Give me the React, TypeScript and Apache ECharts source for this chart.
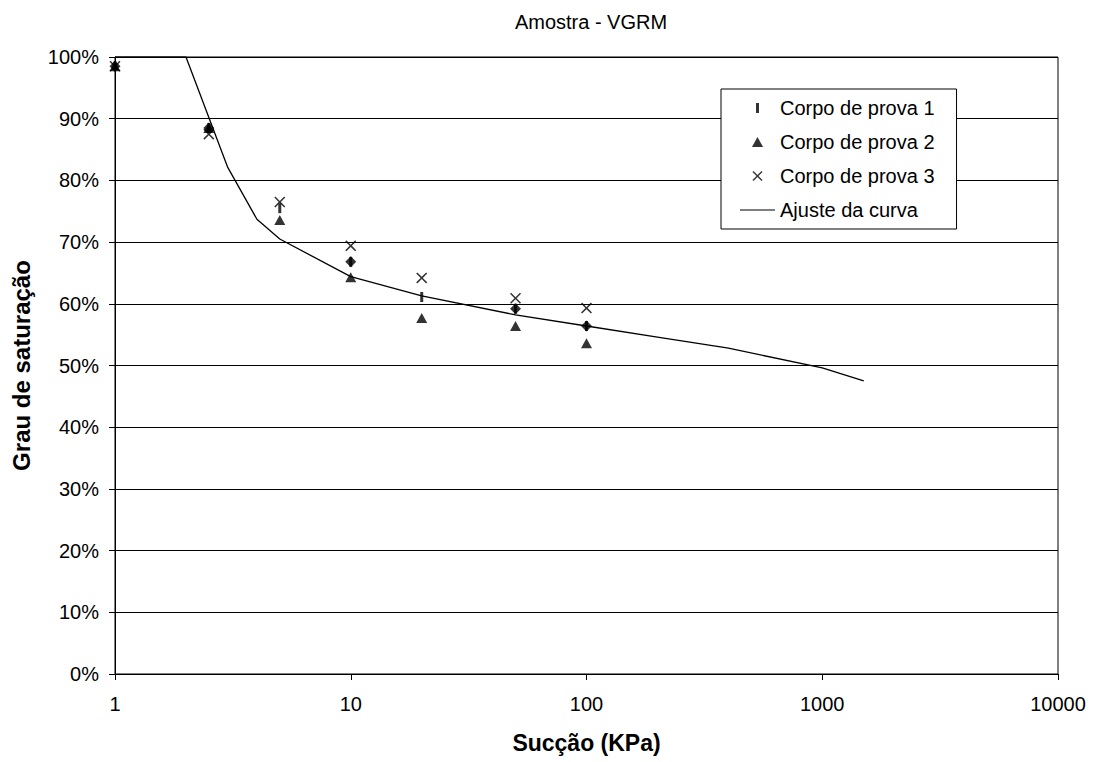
import React, { useEffect, useRef } from "react";
import * as echarts from "echarts";

const FONT = "'Liberation Sans', Arial, Helvetica, sans-serif";

const suctions = [1, 2.5, 5, 10, 20, 50, 100];
const cp1 = [0.985, 0.885, 0.755, 0.668, 0.611, 0.592, 0.564];
const cp2 = [0.985, 0.885, 0.736, 0.643, 0.577, 0.564, 0.536];
const cp3 = [0.985, 0.875, 0.765, 0.694, 0.642, 0.609, 0.593];
const meanX = [1, 2.5, 10, 50, 100];
const meanY = [0.985, 0.885, 0.668, 0.592, 0.564];
const fitX = [1, 2, 3, 4, 5, 10, 20, 50, 100, 200, 400, 1000, 1500];
const fitY = [1.0, 1.0, 0.822, 0.737, 0.705, 0.644, 0.613, 0.582, 0.564, 0.546, 0.528, 0.496, 0.475];
const xTicks = ["1", "10", "100", "1000", "10000"];

const DASH = "path://M0,0 L3,0 L3,10 L0,10 Z";
const TRI = "path://M5,0 L10,9 L0,9 Z";
const CROSS =
  "path://M0,1 L1,0 L5,4 L9,0 L10,1 L6,5 L10,9 L9,10 L5,6 L1,10 L0,9 L4,5 Z";
const LINE_ICON = "path://M0,0 L35,0 L35,1.2 L0,1.2 Z";

const zip = (xs: number[], ys: number[]) => xs.map((x, i) => [x, ys[i]]);

export default function App() {
  const ref = useRef<HTMLDivElement>(null);
  useEffect(() => {
    if (!ref.current) return;
    const chart = echarts.init(ref.current, null, { renderer: "svg" });
    chart.setOption({
      animation: false,
      backgroundColor: "#fff",
      textStyle: { fontFamily: FONT, color: "#000" },
      title: {
        text: "Amostra - VGRM",
        left: 586,
        textAlign: "center",
        top: 7,
        textStyle: { fontFamily: FONT, fontSize: 20, fontWeight: "normal", color: "#000" },
      },
      grid: {
        left: 115,
        right: 36,
        top: 57,
        bottom: 88,
        show: true,
        borderColor: "#000",
        borderWidth: 1,
        backgroundColor: "transparent",
      },
      legend: {
        orient: "vertical",
        left: 721,
        top: 89,
        padding: [9, 22, 9, 19],
        borderColor: "#000",
        borderWidth: 1,
        backgroundColor: "#fff",
        itemWidth: 35,
        itemHeight: 10,
        itemGap: 14,
        align: "left",
        symbolKeepAspect: true,
        textStyle: { fontFamily: FONT, fontSize: 20, color: "#000" },
        data: [
          { name: "Corpo de prova 1", icon: DASH },
          { name: "Corpo de prova 2", icon: TRI },
          { name: "Corpo de prova 3", icon: CROSS },
          { name: "Ajuste da curva", icon: LINE_ICON },
        ],
      },
      xAxis: {
        type: "log",
        logBase: 10,
        min: 1,
        max: 10000,
        name: "Sucção (KPa)",
        nameLocation: "middle",
        nameGap: 57,
        nameTextStyle: { fontFamily: FONT, fontSize: 23, fontWeight: "bold", color: "#000" },
        axisLine: { show: true, lineStyle: { color: "#000", width: 1 } },
        axisTick: { show: true, inside: false, length: 6, lineStyle: { color: "#000" } },
        minorTick: { show: false },
        splitLine: { show: false },
        axisLabel: {
          margin: 20,
          fontFamily: FONT,
          fontSize: 20,
          color: "#000",
          formatter: (v: number) => {
            const s = String(Math.round(v));
            return xTicks.includes(s) ? s : "";
          },
        },
      },
      yAxis: {
        type: "value",
        min: 0,
        max: 1,
        interval: 0.1,
        name: "Grau de saturação",
        nameLocation: "middle",
        nameRotate: 90,
        nameGap: 82,
        nameTextStyle: { fontFamily: FONT, fontSize: 24, fontWeight: "bold", color: "#000" },
        axisLine: { show: true, lineStyle: { color: "#000", width: 1 } },
        axisTick: { show: true, inside: false, length: 6, lineStyle: { color: "#000" } },
        splitLine: { show: true, lineStyle: { color: "#000", width: 1 } },
        axisLabel: {
          margin: 16,
          fontFamily: FONT,
          fontSize: 20,
          color: "#000",
          formatter: (v: number) => `${Math.round(v * 100)}%`,
        },
      },
      series: [
        {
          name: "Ajuste da curva",
          type: "line",
          data: zip(fitX, fitY),
          symbol: "none",
          showSymbol: false,
          lineStyle: { color: "#000", width: 1.3 },
          itemStyle: { color: "#000" },
          z: 2,
        },
        {
          name: "Corpo de prova 1",
          type: "scatter",
          data: zip(suctions, cp1),
          symbol: DASH,
          symbolSize: [3, 10],
          itemStyle: { color: "#000" },
          z: 3,
        },
        {
          name: "Corpo de prova 2",
          type: "scatter",
          data: zip(suctions, cp2),
          symbol: TRI,
          symbolSize: [11, 10],
          itemStyle: { color: "#000" },
          z: 3,
        },
        {
          name: "Corpo de prova 3",
          type: "scatter",
          data: zip(suctions, cp3),
          symbol: CROSS,
          symbolSize: 11,
          itemStyle: { color: "#000" },
          z: 3,
        },
        {
          name: "Média",
          type: "scatter",
          data: zip(meanX, meanY),
          symbol: "diamond",
          symbolSize: 11,
          itemStyle: { color: "#000" },
          z: 4,
        },
      ],
    });
    return () => chart.dispose();
  }, []);
  return (
    <div
      ref={ref}
      style={{ position: "fixed", left: 0, top: 0, width: 1094, height: 762, background: "#fff" }}
    />
  );
}
